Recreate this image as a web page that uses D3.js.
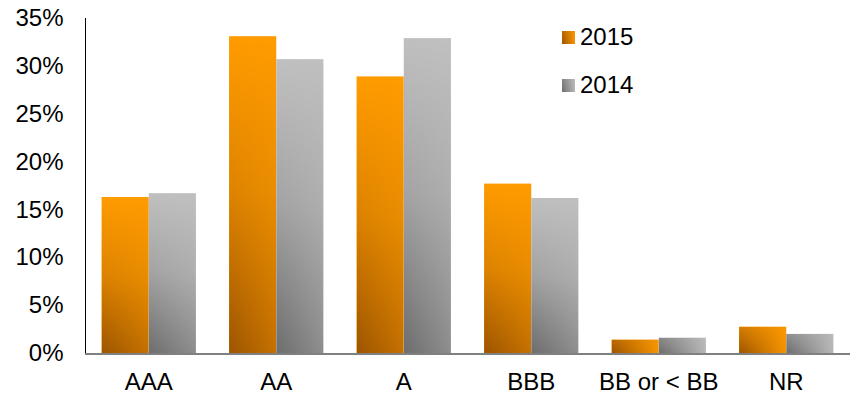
<!DOCTYPE html>
<html><head><meta charset="utf-8">
<script src="https://cdn.jsdelivr.net/npm/d3@7/dist/d3.min.js"></script>
<style>body{margin:0;background:#fff}svg{display:block}text{font-family:"Liberation Sans",Arial,sans-serif;fill:#000}</style>
</head><body>
<script>
const categories = ["AAA","AA","A","BBB","BB or < BB","NR"];
const seriesNames = ["2015","2014"];
const values2015 = [16.3, 33.1, 28.9, 17.7, 1.4, 2.75];
const values2014 = [16.7, 30.7, 32.9, 16.2, 1.6, 2.0];
const yTicks = [0,5,10,15,20,25,30,35];

const W = 850, H = 394, FONT = "24px";
const svg = d3.select("body").append("svg").attr("width", W).attr("height", H);
const defs = svg.append("defs");
const lightCol = ["#ff9c00", "#c0c0c0"];
const darkCol = ["#9c5400", "#6c6c6c"];
let uid = 0;
function shadedRect(parent, si, x0, y0, w, h) {
  const id = uid++;
  const L = Math.max(h, 60);
  const rightOp = Math.max(0.1, Math.min(0.6, h / 250));
  const hg = defs.append("linearGradient").attr("id","h"+id).attr("x1",0).attr("x2",1).attr("y1",0).attr("y2",0);
  hg.append("stop").attr("offset",0).attr("stop-color",darkCol[si]).attr("stop-opacity",1);
  hg.append("stop").attr("offset",1).attr("stop-color",darkCol[si]).attr("stop-opacity",rightOp);
  const vg = defs.append("linearGradient").attr("id","v"+id).attr("gradientUnits","userSpaceOnUse")
    .attr("x1",0).attr("x2",0).attr("y1",y0+h).attr("y2",y0+h-L);
  vg.append("stop").attr("offset",0).attr("stop-color","#fff");
  vg.append("stop").attr("offset",0.5).attr("stop-color","#5a5a5a");
  vg.append("stop").attr("offset",1).attr("stop-color","#000");
  defs.append("mask").attr("id","m"+id).attr("maskUnits","userSpaceOnUse")
    .attr("x",x0-1).attr("y",y0-1).attr("width",w+2).attr("height",h+2)
    .append("rect").attr("x",x0).attr("y",y0).attr("width",w).attr("height",h).attr("fill","url(#v"+id+")");
  const g = parent.append("g");
  g.append("rect").attr("x",x0).attr("y",y0).attr("width",w).attr("height",h).attr("fill",lightCol[si]);
  g.append("rect").attr("x",x0).attr("y",y0).attr("width",w).attr("height",h)
    .attr("fill","url(#h"+id+")").attr("mask","url(#m"+id+")");
}

const x = d3.scaleBand().domain(categories).range([85, 850]).paddingInner(0.26).paddingOuter(0.13);
const xs = d3.scaleBand().domain(seriesNames).range([0, x.bandwidth()]);
const y = d3.scaleLinear().domain([0, 35]).range([353, 18]);

const data = [values2015, values2014];
const barsG = svg.append("g");
seriesNames.forEach((s, si) => {
  categories.forEach((c, i) => {
    const v = data[si][i];
    shadedRect(barsG, si, x(c) + xs(s), y(v), xs.bandwidth(), y(0) - y(v));
  });
});

// y axis
const yAxis = svg.append("g").attr("transform","translate(85.5,0)")
  .call(d3.axisLeft(y).tickValues(yTicks).tickSize(0).tickPadding(22).tickFormat(d => d + "%"));
yAxis.select(".domain").attr("stroke","#000").attr("stroke-width",1).attr("d","M0,18V353");
yAxis.selectAll("text").attr("font-size",FONT).attr("font-family",'"Liberation Sans",Arial,sans-serif').attr("fill","#000");

// x axis
const xAxis = svg.append("g").attr("transform","translate(0,354)")
  .call(d3.axisBottom(x).tickSize(0).tickPadding(19));
xAxis.select(".domain").attr("stroke","#808080").attr("stroke-width",2).attr("d","M85,0H850");
xAxis.selectAll("text").attr("font-size",FONT).attr("font-family",'"Liberation Sans",Arial,sans-serif').attr("fill","#000");

// legend
const leg = svg.append("g");
seriesNames.forEach((s, si) => {
  const yy = 31 + si * 48;
  shadedRect(leg, si, 562, yy, 13, 13);
  leg.append("text").attr("x",580).attr("y",yy+14).attr("font-size",FONT).text(s);
});
</script>
</body></html>
